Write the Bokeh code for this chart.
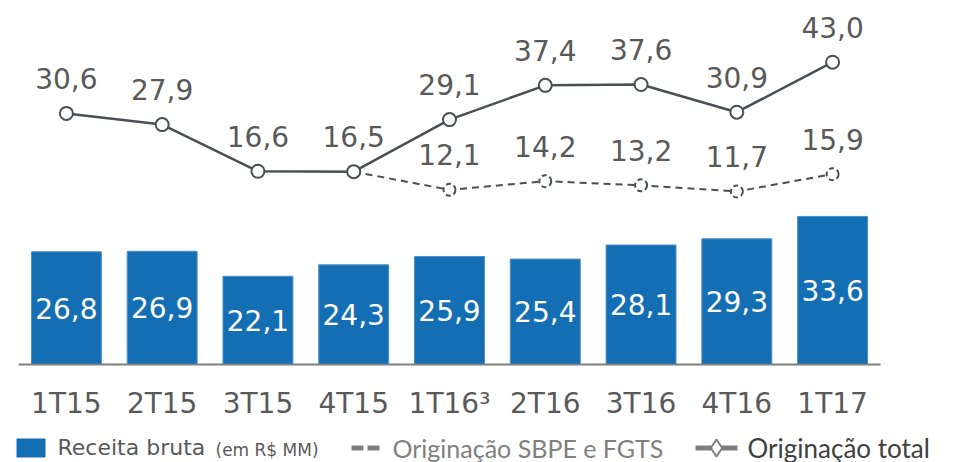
from bokeh.plotting import figure
from bokeh.models import Range1d, FactorRange, Label
from bokeh.layouts import column
from bokeh.core.properties import value
from bokeh.embed import file_html
from bokeh.resources import INLINE

# ---- data ----
categories = ["1T15", "2T15", "3T15", "4T15", "1T16³", "2T16", "3T16", "4T16", "1T17"]
receita_bruta = [26.8, 26.9, 22.1, 24.3, 25.9, 25.4, 28.1, 29.3, 33.6]
originacao_total = [30.6, 27.9, 16.6, 16.5, 29.1, 37.4, 37.6, 30.9, 43.0]
sbpe_categories = ["1T16³", "2T16", "3T16", "4T16", "1T17"]
originacao_sbpe_fgts = [12.1, 14.2, 13.2, 11.7, 15.9]

def fmt(v):
    return f"{v:.1f}".replace(".", ",")

BLUE = "#146EB4"
LINE = "#4B4F54"
TXT = "#595959"
FONT = value("DejaVu Sans")

bar_lo, bar_hi = 5.13, 75.13

p = figure(width=957, height=425, x_range=FactorRange(*categories),
           y_range=Range1d(bar_lo, bar_hi),
           toolbar_location=None, output_backend="svg",
           y_axis_location=None,
           min_border_left=18, min_border_right=77,
           min_border_top=0, min_border_bottom=61)
p.frame_align = False
p.extra_y_ranges = {"orig": Range1d(-30.19, 57.94)}
p.outline_line_color = None
p.xgrid.grid_line_color = None
p.ygrid.grid_line_color = None
p.background_fill_color = "white"
p.border_fill_color = "white"

ax = p.xaxis[0]
ax.axis_line_color = "#7F7F7F"
ax.axis_line_width = 2
ax.major_tick_line_color = None
ax.minor_tick_line_color = None
ax.major_tick_out = 0
ax.major_tick_in = 0
ax.major_label_standoff = 22
ax.major_label_text_font = "DejaVu Sans"
ax.major_label_text_font_size = "28px"
ax.major_label_text_color = TXT

# bars
p.vbar(x=categories, top=receita_bruta, bottom=0, width=0.73,
       fill_color=BLUE, line_color="#4A8FCB", line_width=1)
mids = [(v + bar_lo) / 2 for v in receita_bruta]
p.text(x=categories, y=mids, text=[fmt(v) for v in receita_bruta],
       text_font=FONT, text_font_size="28px", text_color="white",
       text_align="center", text_baseline="middle")

# dashed SBPE line (starts at the 4T15 total point)
dash_x = [categories[3]] + sbpe_categories
dash_y = [originacao_total[3]] + originacao_sbpe_fgts
p.line(x=dash_x, y=dash_y, y_range_name="orig", line_color=LINE,
       line_width=2, line_dash="7 5")
p.scatter(x=sbpe_categories, y=originacao_sbpe_fgts, y_range_name="orig",
          marker="circle", size=12, fill_color="white", line_color=LINE,
          line_width=2, line_dash="5 3")
p.text(x=sbpe_categories, y=originacao_sbpe_fgts, y_range_name="orig",
       text=[fmt(v) for v in originacao_sbpe_fgts], y_offset=-35,
       text_font=FONT, text_font_size="28px", text_color=TXT,
       text_align="center", text_baseline="middle")

# total line
p.line(x=categories, y=originacao_total, y_range_name="orig",
       line_color=LINE, line_width=2.5)
p.scatter(x=categories, y=originacao_total, y_range_name="orig",
          marker="circle", size=13, fill_color="white", line_color=LINE,
          line_width=2)
p.text(x=categories, y=originacao_total, y_range_name="orig",
       text=[fmt(v) for v in originacao_total], y_offset=-35,
       text_font=FONT, text_font_size="28px", text_color=TXT,
       text_align="center", text_baseline="middle")

# ---- legend (own full-width frame; x in page pixels) ----
leg = figure(width=957, height=37, x_range=Range1d(0, 957), y_range=Range1d(37, 0),
             toolbar_location=None, output_backend="svg",
             x_axis_location=None, y_axis_location=None, min_border=0)
leg.frame_align = False
leg.outline_line_color = None
leg.xgrid.grid_line_color = None
leg.ygrid.grid_line_color = None

TY = 22
leg.rect(x=[30.5], y=[22.5], width=29, height=19, fill_color=BLUE, line_color=None)
leg.add_layout(Label(x=57, y=TY, text="Receita bruta", text_font="DejaVu Sans",
                     text_font_size="22px", text_color=TXT, text_baseline="middle"))
leg.add_layout(Label(x=215, y=TY + 2, text="(em R$ MM)", text_font="DejaVu Sans",
                     text_font_size="17px", text_color=TXT, text_baseline="middle"))

leg.rect(x=[357, 373], y=[22.5, 22.5], width=12, height=5, fill_color="#7F7F7F", line_color=None)
leg.add_layout(Label(x=392, y=TY, text="Originação SBPE e FGTS", text_font="Lato",
                     text_font_size="25px", text_color="#808080", text_baseline="middle"))

leg.rect(x=[703, 729], y=[22.5, 22.5], width=16, height=5, fill_color="#7F7F7F", line_color=None)
leg.scatter(x=[716], y=[22.5], marker="diamond", size=17, fill_color="white",
            line_color="#7F7F7F", line_width=2)
leg.add_layout(Label(x=747, y=TY, text="Originação total", text_font="Lato",
                     text_font_size="26px", text_color="#404040", text_baseline="middle"))

layout = column(p, leg, spacing=0)
open("out.html", "w").write(file_html(layout, INLINE))
